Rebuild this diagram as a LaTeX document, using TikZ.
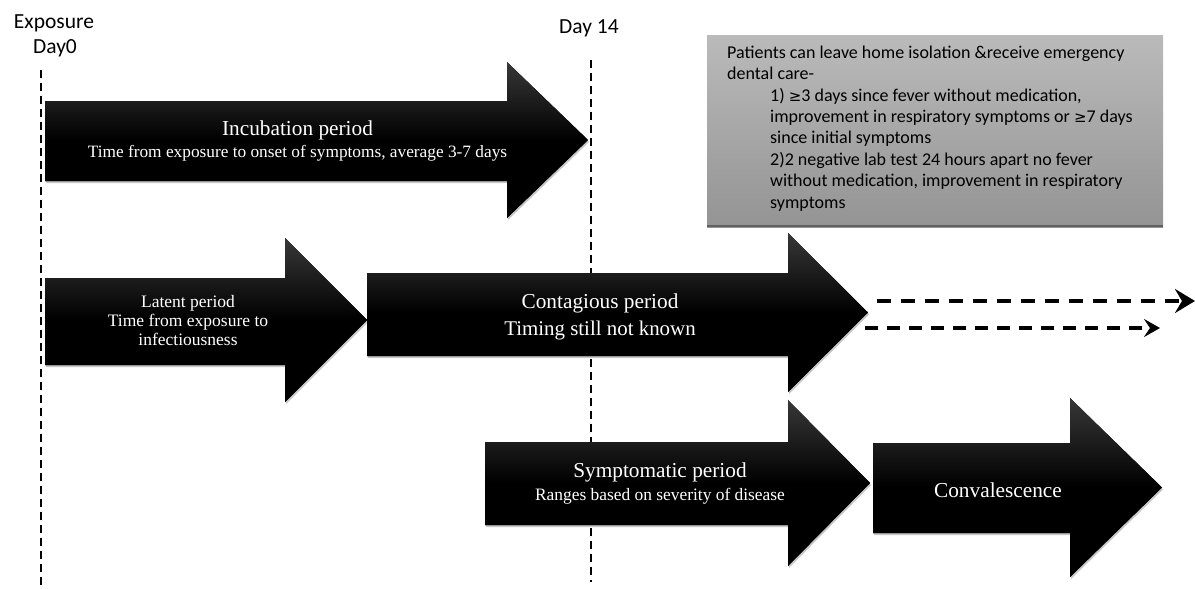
\documentclass[tikz,border=0pt]{standalone}
\usepackage{fontspec}
\setmainfont{Liberation Serif}
\newfontfamily\gillfont{Carlito}
\newfontfamily\symfont{DejaVu Sans}
\usetikzlibrary{arrows.meta}
\newcommand\blkarrow[7]{% x0 xb xt yt yb ht hb
  \fill[arrowshadow,shift={(1,2)}] (#1,#4) -- (#2,#4) -- (#2,#6) -- (#3,{(#6+#7)/2}) -- (#2,#7) -- (#2,#5) -- (#1,#5) -- cycle;
  \fill[arrowfill] (#1,#4) -- (#2,#4) -- (#2,#6) -- (#3,{(#6+#7)/2}) -- (#2,#7) -- (#2,#5) -- (#1,#5) -- cycle;}
\tikzset{
  arrowfill/.style={top color=black!78, bottom color=black, middle color=black},
  arrowshadow/.style={fill=black!22},
  ttl/.style={text=white, font=\fontsize{21.3}{24}\selectfont, anchor=base, inner sep=0pt},
  subt/.style={text=white, font=\fontsize{17.3}{20}\selectfont, anchor=base, inner sep=0pt},
  lat/.style={text=white, font=\fontsize{17.5}{20}\selectfont, anchor=base, inner sep=0pt},
  vline/.style={dash pattern=on 8pt off 5pt, line width=2.8pt},
  dashar/.style={dash pattern=on 14pt off 10pt, line width=3.5pt, -{Stealth[length=20pt,width=24pt,inset=7pt]}},
  dasharsm/.style={dash pattern=on 13pt off 9pt, line width=3.2pt, -{Stealth[length=16pt,width=18pt,inset=6pt]}},
  lbl/.style={font=\gillfont\fontsize{21.5}{30}\selectfont, inner sep=0pt, anchor=base},
}
\begin{document}
\begin{tikzpicture}[x=1pt,y=-1pt]
\useasboundingbox (0,0) rectangle (1195,589);
% labels
\node[lbl] (expo) at (54,28) {Exposure};
\node[lbl] (day0) at (55,53) {Day0};
\node[lbl] (day14) at (589,33) {Day 14};
% vertical dashed lines
\coordinate (l0top) at (41,70);
\coordinate (l0bot) at (41,589);
\coordinate (l14top) at (591,60);
\coordinate (l14bot) at (591,582);
\draw[vline] (l0top) -- (l0bot);
\draw[vline, line width=2.5pt] (l14top) -- (l14bot);
% grey box
\shade[top color=black!27, bottom color=black!42] (707,35) rectangle (1163,227);
\draw[black!62, line width=2.2pt] (707,226) -- (1163,226);
\node[font=\gillfont\fontsize{18}{21.4}\selectfont, align=left, anchor=north west, inner sep=0pt] (note) at (727,45.5)
 {Patients can leave home isolation \&receive emergency\\
  dental care-\\
  \hspace*{43pt}1) {\symfont\fontsize{15}{21.4}\selectfont ≥}3 days since fever without medication,\\
  \hspace*{43pt}improvement in respiratory symptoms or {\symfont\fontsize{15}{21.4}\selectfont ≥}7 days\\
  \hspace*{43pt}since initial symptoms\\
  \hspace*{43pt}2)2 negative lab test 24 hours apart no fever\\
  \hspace*{43pt}without medication, improvement in respiratory\\
  \hspace*{43pt}symptoms};
% incubation
\blkarrow{45}{507}{588}{101}{181}{62}{218}
\node[ttl] (incT) at (297.5,135) {Incubation period};
\node[subt] (incS) at (297.5,157) {Time from exposure to onset of symptoms, average 3-7 days};
% latent
\blkarrow{45}{285}{367}{278}{365}{238}{402}
\node[lat] (latT) at (188,307) {Latent period};
\node[lat] (latS) at (188,326) {Time from exposure to};
\node[lat] (latS2) at (188,345) {infectiousness};
% contagious
\blkarrow{367}{788}{868}{273}{356}{233}{392}
\node[ttl] (conT) at (600,308) {Contagious period};
\node[ttl, font=\fontsize{20.9}{24}\selectfont] (conS) at (600,335) {Timing still not known};
% dashed continuation arrows
\coordinate (da1s) at (877,301);
\coordinate (da1e) at (1195,301);
\coordinate (da2s) at (865,328);
\coordinate (da2e) at (1160,328);
\draw[dashar] (da1s) -- (da1e);
\draw[dasharsm] (da2s) -- (da2e);
% symptomatic
\blkarrow{485}{788}{870}{442}{525}{400}{566}
\node[ttl] (symT) at (660,477) {Symptomatic period};
\node[subt, font=\fontsize{17.4}{20}\selectfont] (symS) at (660,500) {Ranges based on severity of disease};
% convalescence
\blkarrow{873}{1070}{1162}{443}{533}{398}{577}
\node[ttl] (conv) at (998,497) {Convalescence};
\end{tikzpicture}
\end{document}
